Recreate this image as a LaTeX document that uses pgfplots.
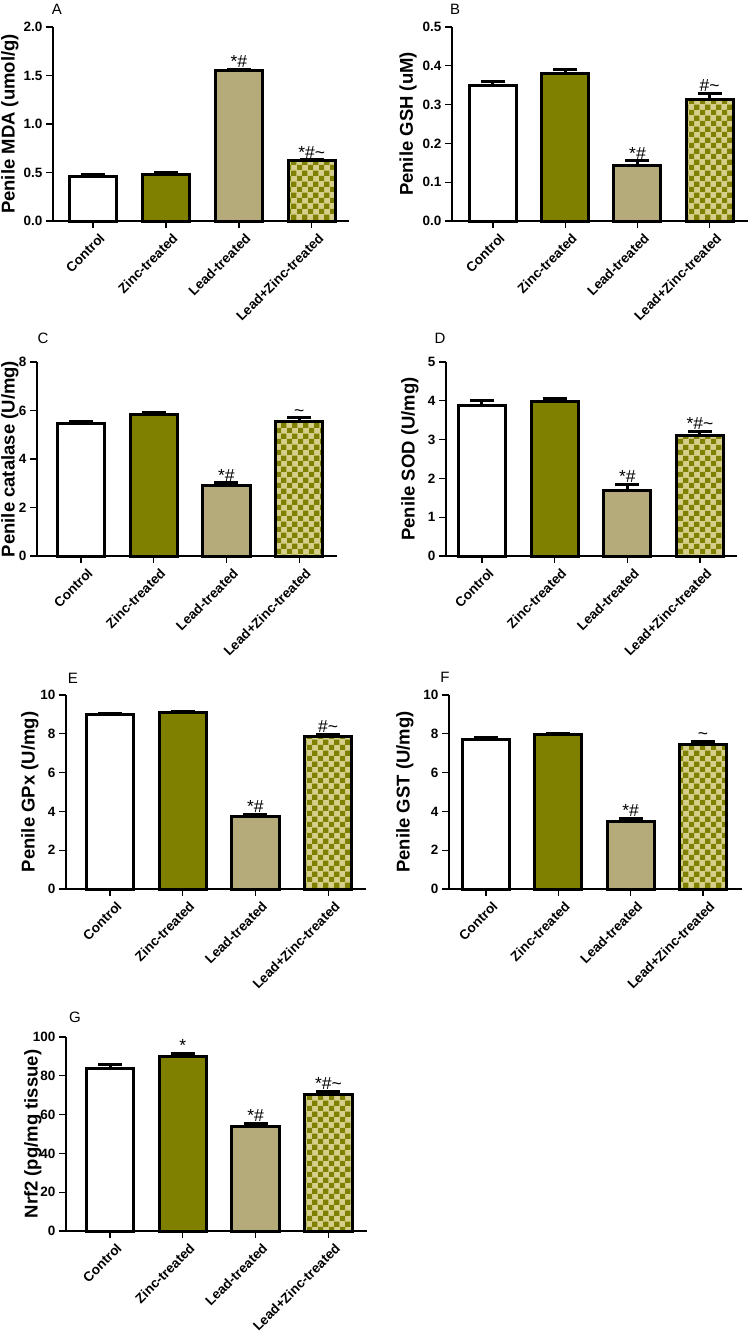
\documentclass[border=0pt]{standalone}
\usepackage{pgfplots}
\pgfplotsset{compat=1.18}
\usepackage{fontspec}
\setmainfont{Liberation Sans}
\usetikzlibrary{patterns}
\definecolor{olivec}{RGB}{128,128,0}
\definecolor{tanc}{RGB}{180,170,122}
\definecolor{lightc}{RGB}{214,207,140}
\pgfdeclarepatternformonly{checks}{\pgfpointorigin}{\pgfpoint{10.6pt}{10.6pt}}{\pgfpoint{10.6pt}{10.6pt}}{%
 \pgfpathrectangle{\pgfpointorigin}{\pgfpoint{5.3pt}{5.3pt}}%
 \pgfpathrectangle{\pgfpoint{5.3pt}{5.3pt}}{\pgfpoint{5.3pt}{5.3pt}}%
 \pgfusepath{fill}}
\tikzset{ann/.style={font=\fontsize{17.5}{17.5}\selectfont, anchor=south, inner sep=0.5pt}}
\pgfplotsset{
 panel/.style={
   scale only axis,
   anchor=south west,
   axis lines*=left,
   axis line style={line width=1.3pt},
   ybar, bar width=0.65,
   ymin=0,
   xtick={0,1,2,3},
   xticklabels={Control,Zinc-treated,Lead-treated,Lead+Zinc-treated},
   x tick label style={rotate=45, anchor=north east, font=\bfseries\fontsize{13.5}{14}\selectfont, inner sep=1pt, yshift=-6pt, xshift=2pt},
   y tick label style={font=\bfseries\fontsize{13.5}{14}\selectfont},
   /pgf/number format/assume math mode=true,
   tick align=outside,
   major tick length=7pt,
   tick style={line width=1.3pt, black},
   ylabel style={font=\bfseries\fontsize{18.5}{20}\selectfont, anchor=center},
   height=194pt,
   error bars/y dir=plus, error bars/y explicit,
   error bars/error bar style={line width=3pt, black},
   error bars/error mark options={rotate=90, mark size=12pt, line width=3pt, black},
   clip=false,
 },
 ctrl/.style={fill=white, draw=black, line width=3pt, bar shift=0pt},
 zinc/.style={fill=olivec, draw=black, line width=3pt, bar shift=0pt},
 lead/.style={fill=tanc, draw=black, line width=3pt, bar shift=0pt},
 combo/.style={preaction={fill=lightc}, pattern=checks, pattern color=olivec, draw=black, line width=3pt, bar shift=0pt},
 onedec/.style={yticklabel style={/pgf/number format/.cd, fixed, fixed zerofill, precision=1}},
}
\begin{document}
\begin{tikzpicture}
\useasboundingbox (0,0) rectangle (750pt,-1338pt);
\node[font=\fontsize{15}{15}\selectfont] at (57pt,-9pt) {A};
\node[font=\fontsize{15}{15}\selectfont] at (455pt,-9pt) {B};
\node[font=\fontsize{15}{15}\selectfont] at (43pt,-338pt) {C};
\node[font=\fontsize{15}{15}\selectfont] at (440pt,-338pt) {D};
\node[font=\fontsize{15}{15}\selectfont] at (73pt,-678pt) {E};
\node[font=\fontsize{15}{15}\selectfont] at (445pt,-677pt) {F};
\node[font=\fontsize{15}{15}\selectfont] at (75pt,-1017pt) {G};

% A
\begin{axis}[panel, onedec, at={(53pt,-221pt)}, width=296pt, xmin=-0.548, xmax=3.51, ymax=2, ytick={0,0.5,1,1.5,2},
  ylabel={Penile MDA (umol/g)}, ylabel style={at={([xshift=-43pt]axis description cs:0,0.5)}}]
\addplot[ctrl] coordinates {(0,0.46) +- (0,0.015)};
\addplot[zinc] coordinates {(1,0.48) +- (0,0.015)};
\addplot[lead] coordinates {(2,1.55) +- (0,0.015)};
\addplot[combo] coordinates {(3,0.62) +- (0,0.012)};
\node[ann] at (axis cs:2,1.575) {*\#};
\node[ann] at (axis cs:3,0.64) {*\#\textasciitilde};
\end{axis}

% B
\begin{axis}[panel, onedec, at={(452pt,-221pt)}, width=296pt, xmin=-0.567, xmax=3.53, ymax=0.5, ytick={0,0.1,0.2,0.3,0.4,0.5},
  ylabel={Penile GSH (uM)}, ylabel style={at={([xshift=-44pt]axis description cs:0,0.5)}}]
\addplot[ctrl] coordinates {(0,0.35) +- (0,0.01)};
\addplot[zinc] coordinates {(1,0.38) +- (0,0.01)};
\addplot[lead] coordinates {(2,0.144) +- (0,0.011)};
\addplot[combo] coordinates {(3,0.314) +- (0,0.015)};
\node[ann] at (axis cs:2,0.158) {*\#};
\node[ann] at (axis cs:3,0.332) {\#\textasciitilde};
\end{axis}

% C
\begin{axis}[panel, at={(37pt,-556pt)}, width=300pt, xmin=-0.605, xmax=3.52, ymax=8, ytick={0,2,4,6,8},
  ylabel={Penile catalase (U/mg)}, ylabel style={at={([xshift=-27pt]axis description cs:0,0.5)}}]
\addplot[ctrl] coordinates {(0,5.45) +- (0,0.1)};
\addplot[zinc] coordinates {(1,5.85) +- (0,0.08)};
\addplot[lead] coordinates {(2,2.92) +- (0,0.1)};
\addplot[combo] coordinates {(3,5.55) +- (0,0.15)};
\node[ann] at (axis cs:2,3.06) {*\#};
\node[ann] at (axis cs:3,5.74) {\textasciitilde};
\end{axis}

% D
\begin{axis}[panel, at={(446pt,-556pt)}, width=291pt, xmin=-0.495, xmax=3.51, ymax=5, ytick={0,1,2,3,4,5},
  ylabel={Penile SOD (U/mg)}, ylabel style={at={([xshift=-36pt]axis description cs:0,0.5)}}]
\addplot[ctrl] coordinates {(0,3.89) +- (0,0.12)};
\addplot[zinc] coordinates {(1,3.99) +- (0,0.07)};
\addplot[lead] coordinates {(2,1.70) +- (0,0.14)};
\addplot[combo] coordinates {(3,3.10) +- (0,0.11)};
\node[ann] at (axis cs:2,1.88) {*\#};
\node[ann] at (axis cs:3,3.25) {*\#\textasciitilde};
\end{axis}

% E
\begin{axis}[panel, at={(66pt,-889pt)}, width=300pt, xmin=-0.605, xmax=3.52, ymax=10, ytick={0,2,4,6,8,10},
  ylabel={Penile GPx (U/mg)}, ylabel style={at={([xshift=-36pt]axis description cs:0,0.5)}}]
\addplot[ctrl] coordinates {(0,8.97) +- (0,0.08)};
\addplot[zinc] coordinates {(1,9.09) +- (0,0.07)};
\addplot[lead] coordinates {(2,3.73) +- (0,0.12)};
\addplot[combo] coordinates {(3,7.85) +- (0,0.12)};
\node[ann] at (axis cs:2,3.9) {*\#};
\node[ann] at (axis cs:3,8.03) {\#\textasciitilde};
\end{axis}

% F
\begin{axis}[panel, at={(449pt,-889pt)}, width=293pt, xmin=-0.51, xmax=3.54, ymax=10, ytick={0,2,4,6,8,10},
  ylabel={Penile GST (U/mg)}, ylabel style={at={([xshift=-44pt]axis description cs:0,0.5)}}]
\addplot[ctrl] coordinates {(0,7.71) +- (0,0.12)};
\addplot[zinc] coordinates {(1,7.95) +- (0,0.08)};
\addplot[lead] coordinates {(2,3.50) +- (0,0.14)};
\addplot[combo] coordinates {(3,7.45) +- (0,0.16)};
\node[ann] at (axis cs:2,3.69) {*\#};
\node[ann] at (axis cs:3,7.66) {\textasciitilde};
\end{axis}

% G
\begin{axis}[panel, at={(66pt,-1231pt)}, width=301pt, xmin=-0.605, xmax=3.53, ymax=100, ytick={0,20,40,60,80,100},
  ylabel={Nrf2 (pg/mg tissue)}, ylabel style={at={([xshift=-33pt]axis description cs:0,0.5)}}]
\addplot[ctrl] coordinates {(0,84.0) +- (0,1.6)};
\addplot[zinc] coordinates {(1,90.2) +- (0,1.3)};
\addplot[lead] coordinates {(2,53.8) +- (0,1.6)};
\addplot[combo] coordinates {(3,70.6) +- (0,1.5)};
\node[ann] at (axis cs:1,92.0) {*};
\node[ann] at (axis cs:2,55.9) {*\#};
\node[ann] at (axis cs:3,72.6) {*\#\textasciitilde};
\end{axis}
\end{tikzpicture}
\end{document}
